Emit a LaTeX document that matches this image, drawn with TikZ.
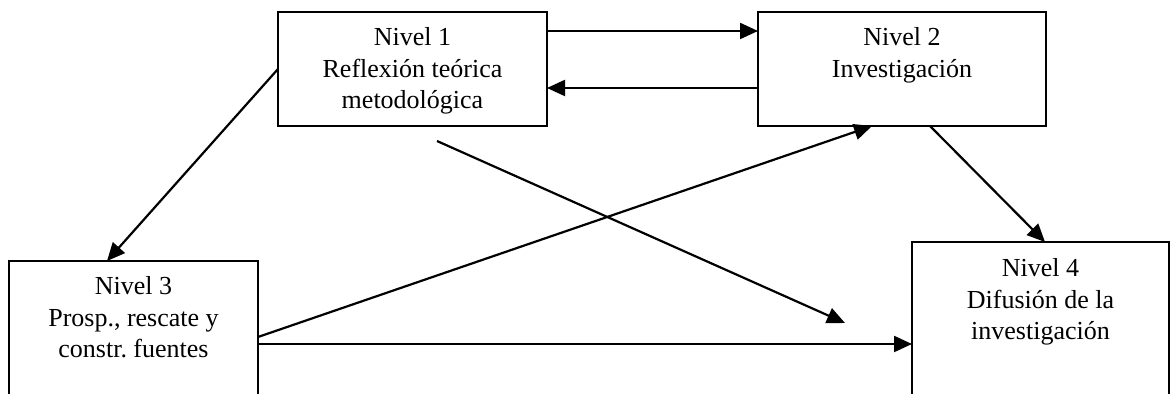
\documentclass[tikz,border=0pt]{standalone}
\usepackage{fontspec}
\setmainfont{Liberation Serif}
\usetikzlibrary{arrows.meta}
\frenchspacing

\begin{document}
\begin{tikzpicture}[x=0.5pt,y=-0.5pt,
    nivel/.style={draw,line width=1pt,rectangle,inner sep=0pt,outer sep=0pt,%
      align=center,anchor=north west,%
      font=\fontsize{13pt}{15.8pt}\selectfont},
    flecha/.style={line width=1.1pt,-{Triangle[length=9pt,width=8pt]}}]
      \useasboundingbox (0,0) rectangle (1171,394) ;
      \clip (0,0) rectangle (1171,394) ;
      \node[nivel,minimum width=134.5pt,text height=48.5pt,text depth=8.5pt] %
      (N1) at (278,12) {Nivel 1\\Reflexión teórica\\metodológica} ;
      \node[nivel,minimum width=144pt,text height=32.8pt,text depth=24.2pt] %
      (N2) at (758,12) {Nivel 2\\Investigación} ;
      \node[nivel,minimum width=124.5pt,text height=48.5pt,text depth=50pt] %
      (N3) at (9,261) {Nivel 3\\Prosp., rescate y\\constr. fuentes} ;
      \node[nivel,minimum width=128.5pt,text height=49pt,text depth=50pt] %
      (N4) at (912,242) {Nivel 4\\Difusión de la\\investigación} ;
      \coordinate (X1) at (437,141) ;
      \coordinate (X2) at (845,323) ;
      \draw[flecha] ([yshift=-9.5pt]N1.north east) -- ([yshift=-9.5pt]N2.north west) ;
      \draw[flecha] ([yshift=-38pt]N2.north west) -- ([yshift=-38pt]N1.north east) ;
      \draw[flecha] (N1.west) -- ([xshift=49pt]N3.north west) ;
      \draw[flecha] (X1) -- (X2) ;
      \draw[flecha] ([yshift=-38pt]N3.north east) -- ([xshift=57pt]N2.south west) ;
      \draw[flecha] ([xshift=86pt]N2.south west) -- ([xshift=66.5pt]N4.north west) ;
      \draw[flecha] ([yshift=-41.5pt]N3.north east) -- ([yshift=-51pt]N4.north west) ;
    \end{tikzpicture}
\end{document}
